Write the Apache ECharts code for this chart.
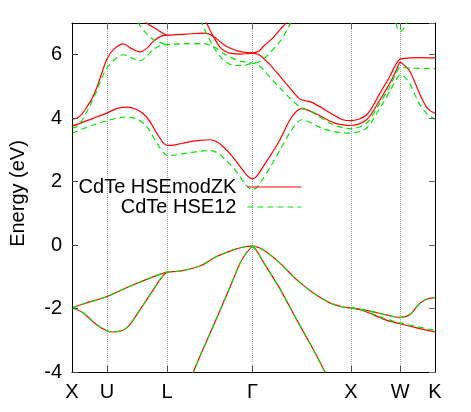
<!DOCTYPE html>
<html>
<head>
<meta charset="utf-8">
<script src="https://cdn.jsdelivr.net/npm/echarts@6/dist/echarts.min.js"></script>
<style>
  html, body { margin: 0; padding: 0; background: #fff; }
  #bands { width: 471px; height: 412px; }
</style>
</head>
<body>
<div id="bands"></div>
<script>
// k-path (units of 2pi/a) and high symmetry labels
var kPos = [0, 0.354, 0.966, 1.832, 2.832, 3.332, 3.686];
var kLabels = ['X', 'U', 'L', 'Γ', 'X', 'W', 'K'];
var yTicks = [-4, -2, 0, 2, 4, 6];

var nameZK = 'CdTe HSEmodZK';
var name12 = 'CdTe HSE12';

// valence bands [k, E(eV)]
var vb1 = [[0,-1.98],[0.12,-1.85],[0.354,-1.62],[0.6,-1.28],[0.85,-0.97],[0.966,-0.85],[1.096,-0.82],[1.299,-0.66],[1.469,-0.36],[1.638,-0.15],[1.74,-0.06],[1.832,-0.03],[1.942,-0.15],[2.112,-0.57],[2.281,-1.09],[2.45,-1.51],[2.619,-1.82],[2.75,-1.95],[2.832,-1.98],[3.025,-2.08],[3.178,-2.19],[3.332,-2.28],[3.431,-2.19],[3.533,-1.83],[3.635,-1.67],[3.686,-1.66]];
var vb2a = [[0,-1.98],[0.05,-2.03],[0.115,-2.14],[0.251,-2.51],[0.354,-2.70],[0.419,-2.74],[0.555,-2.61],[0.69,-2.04],[0.825,-1.41],[0.893,-1.09],[0.935,-0.93],[0.966,-0.85]];
var vb2b = [[2.832,-1.98],[2.92,-2.03],[3.025,-2.15],[3.178,-2.35],[3.332,-2.48],[3.5,-2.61],[3.686,-2.74]];
var vb2bG = [[2.832,-1.98],[2.92,-2.02],[3.025,-2.13],[3.178,-2.32],[3.332,-2.45],[3.5,-2.57],[3.686,-2.69]];
var vb3a = [[1.12,-5.0],[1.232,-4.0],[1.42,-2.65],[1.604,-1.33],[1.706,-0.57],[1.77,-0.25],[1.832,-0.03]];
var vb3b = [[1.832,-0.03],[1.88,-0.2],[1.942,-0.53],[2.112,-1.38],[2.281,-2.35],[2.45,-3.29],[2.569,-4.0],[2.68,-4.7]];

// conduction bands, HSEmodZK
var rc1 = [[0,3.75],[0.1,3.86],[0.2,3.98],[0.354,4.16],[0.46,4.31],[0.565,4.35],[0.65,4.28],[0.724,4.14],[0.79,3.9],[0.86,3.53],[0.927,3.22],[0.966,3.14],[1.05,3.16],[1.164,3.24],[1.3,3.3],[1.401,3.32],[1.47,3.26],[1.536,3.1],[1.604,2.88],[1.66,2.67],[1.706,2.48],[1.77,2.22],[1.81,2.11],[1.832,2.09],[1.87,2.15],[1.942,2.48],[2.03,2.9],[2.112,3.32],[2.213,3.95],[2.28,4.22],[2.33,4.3],[2.38,4.27],[2.484,4.13],[2.55,4.02],[2.653,3.86],[2.75,3.79],[2.832,3.77],[2.992,3.95],[3.127,4.58],[3.228,5.11],[3.299,5.55],[3.332,5.76],[3.381,5.65],[3.431,5.48],[3.533,4.75],[3.6,4.35],[3.64,4.23],[3.686,4.16]];
var rc2 = [[0,3.98],[0.05,4.0],[0.1,4.13],[0.15,4.35],[0.2,4.6],[0.25,4.95],[0.3,5.4],[0.354,5.86],[0.42,6.16],[0.521,6.34],[0.6,6.2],[0.69,6.09],[0.76,6.2],[0.825,6.42],[0.9,6.58],[0.966,6.61],[1.164,6.65],[1.333,6.68],[1.4,6.64],[1.469,6.5],[1.536,6.33],[1.604,6.21],[1.706,6.1],[1.832,6.05],[1.9,6.0],[2.0,5.72],[2.112,5.32],[2.213,4.95],[2.315,4.6],[2.37,4.55],[2.416,4.52],[2.484,4.42],[2.653,4.11],[2.75,3.95],[2.832,3.92],[2.992,4.11],[3.127,4.79],[3.228,5.32],[3.289,5.7],[3.332,5.86],[3.431,5.9],[3.533,5.91],[3.686,5.9]];
var rc3 = [[0.66,7.3],[0.758,7.0],[0.86,6.8],[0.927,6.67],[0.966,6.61]];
var rc4 = [[1.28,7.5],[1.35,7.1],[1.435,6.58],[1.5,6.25],[1.56,6.1],[1.604,6.05],[1.706,6.02],[1.77,6.03],[1.832,6.05],[1.9,6.12],[1.942,6.26],[2.03,6.5],[2.112,6.79],[2.2,7.1],[2.27,7.4]];

// conduction bands, HSE12
var gc1 = [[0,3.53],[0.1,3.65],[0.2,3.77],[0.354,3.92],[0.46,4.0],[0.565,4.04],[0.65,3.98],[0.724,3.85],[0.79,3.6],[0.86,3.22],[0.927,2.92],[0.966,2.82],[1.05,2.84],[1.164,2.9],[1.3,2.96],[1.401,2.98],[1.47,2.92],[1.536,2.76],[1.604,2.55],[1.66,2.35],[1.706,2.16],[1.77,1.88],[1.81,1.77],[1.832,1.75],[1.87,1.8],[1.942,2.1],[2.03,2.55],[2.112,3.0],[2.213,3.55],[2.281,3.85],[2.332,3.95],[2.38,3.92],[2.484,3.76],[2.55,3.67],[2.653,3.58],[2.75,3.54],[2.832,3.53],[2.992,3.69],[3.127,4.32],[3.228,4.85],[3.299,5.25],[3.332,5.37],[3.381,5.28],[3.431,5.08],[3.5,4.62],[3.533,4.42],[3.6,4.15],[3.635,4.06],[3.686,3.97]];
var gc2 = [[0,3.69],[0.05,3.74],[0.1,3.92],[0.15,4.2],[0.2,4.52],[0.25,4.85],[0.3,5.25],[0.354,5.58],[0.437,5.86],[0.521,6.0],[0.6,5.9],[0.69,5.81],[0.76,5.95],[0.825,6.16],[0.9,6.29],[0.966,6.32],[1.164,6.35],[1.333,6.35],[1.435,6.26],[1.536,6.05],[1.604,5.93],[1.706,5.8],[1.832,5.74],[1.9,5.65],[1.942,5.53],[2.112,4.95],[2.315,4.35],[2.416,4.24],[2.484,4.1],[2.653,3.79],[2.75,3.7],[2.832,3.67],[2.992,3.85],[3.127,4.48],[3.228,5.0],[3.289,5.4],[3.332,5.6],[3.431,5.58],[3.533,5.57],[3.686,5.56]];
var gc3 = [[0.62,7.3],[0.69,6.92],[0.76,6.65],[0.843,6.45],[0.927,6.35],[0.966,6.32]];
var gc4 = [[1.27,7.4],[1.317,7.0],[1.435,6.26],[1.503,5.95],[1.571,5.75],[1.655,5.66],[1.756,5.67],[1.832,5.74],[1.9,5.78],[1.975,5.95],[2.112,6.42],[2.213,6.95],[2.27,7.3]];
var gc5 = [[3.22,7.6],[3.279,7.1],[3.305,6.83],[3.332,6.73],[3.37,6.84],[3.414,7.1],[3.46,7.6]];

var redBands = [vb1, vb2a, vb2b, vb3a, vb3b, rc1, rc2, rc3, rc4];
var greenBands = [vb1, vb2a, vb2bG, vb3a, vb3b, gc1, gc2, gc3, gc4, gc5];

var font = 'Liberation Sans, Arial, sans-serif';
var RED = '#ff0000';
var GREEN = '#00e600';

function band(name, data, color, dashed) {
  return {
    name: name,
    type: 'line',
    data: data,
    symbol: 'none',
    showSymbol: false,
    smooth: 0.3,
    clip: true,
    z: dashed ? 3 : 2,
    lineStyle: { color: color, width: 1.2, type: dashed ? [6, 4] : 'solid' },
    itemStyle: { color: color },
    emphasis: { disabled: true }
  };
}

var series = [];
redBands.forEach(function (d) { series.push(band(nameZK, d, RED, false)); });
greenBands.forEach(function (d) { series.push(band(name12, d, GREEN, true)); });

function kLabel(v) {
  for (var i = 0; i < kPos.length; i++) {
    if (Math.abs(kPos[i] - v) < 1e-6) return kLabels[i];
  }
  return '';
}

var inner = kPos.slice(1, kPos.length - 1);

function keyBox(name, top) {
  return {
    data: [name], right: 169, top: top, padding: 0, align: 'right',
    itemWidth: 54, itemHeight: 14, selectedMode: false,
    itemStyle: { opacity: 0 },
    lineStyle: { width: 1.2 },
    textStyle: { fontSize: 20, fontFamily: font, color: '#000', padding: [0, 6, 0, 0] }
  };
}

var chart = echarts.init(document.getElementById('bands'), null, { renderer: 'canvas' });
chart.setOption({
  animation: false,
  backgroundColor: '#fff',
  textStyle: { fontFamily: font },
  grid: { left: 72, right: 36, top: 23, bottom: 40 },
  legend: [keyBox(nameZK, 177), keyBox(name12, 197)],
  xAxis: [
    {
      type: 'value', min: kPos[0], max: kPos[kPos.length - 1], position: 'bottom',
      axisLine: { show: true, onZero: false, lineStyle: { color: '#000', width: 1 } },
      axisTick: { show: true, inside: true, length: 6, customValues: inner, lineStyle: { color: '#444' } },
      axisLabel: {
        show: true, customValues: kPos, margin: 10, fontSize: 20, color: '#000', fontFamily: font,
        showMinLabel: true, showMaxLabel: true, hideOverlap: false,
        formatter: kLabel
      },
      splitLine: { show: true, lineStyle: { color: '#a0a0a0', width: 1, type: 'dotted' } }
    },
    {
      type: 'value', min: kPos[0], max: kPos[kPos.length - 1], position: 'top',
      axisLine: { show: true, onZero: false, lineStyle: { color: '#000', width: 1 } },
      axisTick: { show: true, inside: true, length: 6, customValues: inner, lineStyle: { color: '#666' } },
      axisLabel: { show: false },
      splitLine: { show: false }
    }
  ],
  yAxis: [
    {
      type: 'value', min: -4, max: 7, interval: 2, position: 'left', z: 5,
      name: 'Energy (eV)', nameLocation: 'middle', nameGap: 44,
      nameTextStyle: { fontSize: 20, color: '#000', fontFamily: font, padding: [0, 0, 0, 8] },
      axisLine: { show: true, onZero: false, lineStyle: { color: '#000', width: 1 } },
      axisTick: { show: true, inside: true, length: 6, lineStyle: { color: '#444' } },
      axisLabel: {
        margin: 10, fontSize: 20, color: '#000', fontFamily: font, showMaxLabel: false,
        formatter: function (v) { return yTicks.indexOf(v) >= 0 ? String(v) : ''; }
      },
      splitLine: { show: false }
    },
    {
      type: 'value', min: -4, max: 7, interval: 2, position: 'right', z: 5,
      axisLine: { show: true, onZero: false, lineStyle: { color: '#000', width: 1 } },
      axisTick: { show: true, inside: true, length: 6, lineStyle: { color: '#666' } },
      axisLabel: { show: false },
      splitLine: { show: false }
    }
  ],
  series: series
});
</script>
</body>
</html>
